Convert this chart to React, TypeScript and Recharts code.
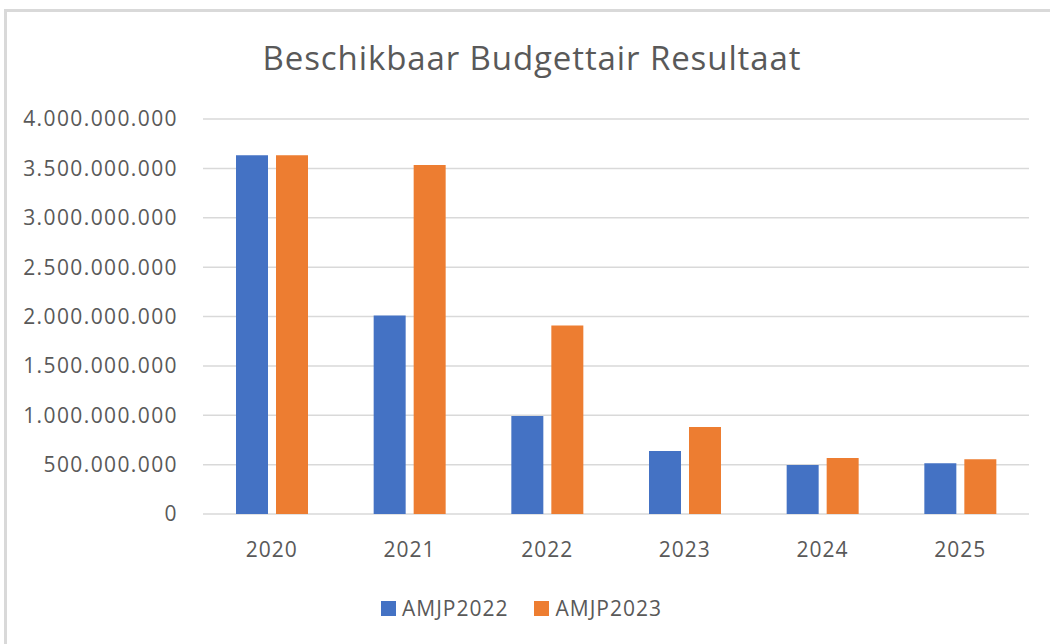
import { BarChart, Bar, XAxis, YAxis, CartesianGrid } from "recharts";

const years = ["2020", "2021", "2022", "2023", "2024", "2025"];
const amjp2022 = [3634000000, 2009000000, 993000000, 638000000, 496000000, 513000000];
const amjp2023 = [3634000000, 3533000000, 1908000000, 881000000, 567000000, 554000000];
const yTicks = [0, 500000000, 1000000000, 1500000000, 2000000000, 2500000000, 3000000000, 3500000000, 4000000000];

const series = [
  { key: "AMJP2022", values: amjp2022, color: "#4472C4" },
  { key: "AMJP2023", values: amjp2023, color: "#ED7D31" },
];

const data = years.map((year, i) => {
  const row: Record<string, string | number> = { year };
  series.forEach((s) => {
    row[s.key] = s.values[i];
  });
  return row;
});

const font = "'Open Sans', sans-serif";
const textColor = "#595959";

const formatTick = (v: number) =>
  v.toString().replace(/\B(?=(\d{3})+(?!\d))/g, ".");

export default function App() {
  return (
    <div
      style={{
        position: "absolute",
        left: 0,
        top: 0,
        width: 1050,
        height: 644,
        overflow: "hidden",
        background: "#fff",
        fontFamily: font,
      }}
    >
      <div
        style={{
          position: "absolute",
          left: 4,
          top: 9,
          width: 1100,
          height: 700,
          border: "3px solid #d9d9d9",
        }}
      />
      <div
        style={{
          position: "absolute",
          left: 0,
          width: 1064,
          top: 35,
          textAlign: "center",
          fontSize: 33,
          color: textColor,
          letterSpacing: 0.9,
        }}
      >
        Beschikbaar Budgettair Resultaat
      </div>
      <div style={{ position: "absolute", left: 0, top: 0 }}>
        <BarChart
          width={1050}
          height={644}
          data={data}
          margin={{ top: 119, right: 21, bottom: 70, left: 0 }}
          barSize={32}
          barGap={8}
        >
          <CartesianGrid
            vertical={false}
            stroke="#d9d9d9"
            strokeWidth={1.5}
          />
          <XAxis
            dataKey="year"
            axisLine={false}
            tickLine={false}
            tickSize={0}
            tickMargin={28}
            height={60}
            tick={{ fill: textColor, fontSize: 21, fontFamily: font, letterSpacing: 1 }}
          />
          <YAxis
            domain={[0, 4000000000]}
            ticks={yTicks}
            tickFormatter={formatTick}
            axisLine={false}
            tickLine={false}
            tickSize={0}
            tickMargin={25}
            width={203}
            tick={{ fill: textColor, fontSize: 21, fontFamily: font, letterSpacing: 1.4 }}
          />
          {series.map((s) => (
            <Bar
              key={s.key}
              dataKey={s.key}
              fill={s.color}
              isAnimationActive={false}
            />
          ))}
        </BarChart>
      </div>
      <div
        style={{
          position: "absolute",
          left: 381,
          top: 594,
          display: "flex",
          alignItems: "center",
          fontSize: 21,
          color: textColor,
          letterSpacing: 1,
        }}
      >
        {series.map((s) => (
          <div
            key={s.key}
            style={{ display: "flex", alignItems: "center", marginRight: 26 }}
          >
            <span
              style={{
                display: "inline-block",
                width: 15,
                height: 15,
                background: s.color,
                marginRight: 6,
              }}
            />
            <span>{s.key}</span>
          </div>
        ))}
      </div>
    </div>
  );
}
